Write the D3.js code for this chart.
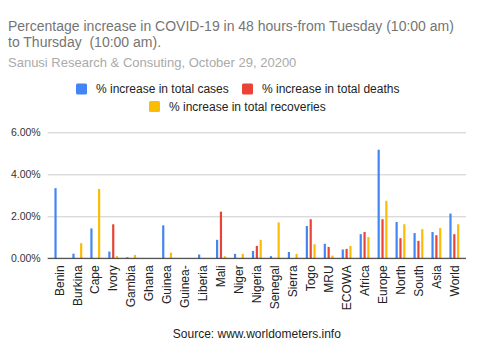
<!DOCTYPE html>
<html>
<head>
<meta charset="utf-8">
<script src="https://cdn.jsdelivr.net/npm/d3@7"></script>
<style>
  html, body { margin: 0; padding: 0; background: #fff; }
  svg { display: block; font-family: Arial, "Liberation Sans", sans-serif; }
</style>
</head>
<body>
<svg id="chart" width="480" height="360"></svg>
<script>
const categories = ["Benin","Burkina","Cape","Ivory","Gambia","Ghana","Guinea","Guinea-","Liberia","Mali","Niger","Nigeria","Senegal","Sierra","Togo","MRU","ECOWA","Africa","Europe","North","South","Asia","World"];
const casesPct      = [3.34,0.22,1.42,0.32,0.05,0,1.57,0,0.18,0.88,0.21,0.35,0.10,0.30,1.54,0.69,0.42,1.15,5.17,1.73,1.20,1.25,2.13];
const deathsPct     = [0,0,0,1.62,0,0,0,0,0,2.22,0,0.59,0,0,1.86,0.54,0.45,1.25,1.86,0.96,0.83,1.10,1.15];
const recoveriesPct = [0,0.72,3.30,0.10,0.16,0,0.27,0,0,0.10,0.21,0.88,1.71,0.21,0.67,0.13,0.59,1.01,2.74,1.62,1.39,1.44,1.62];
const seriesNames = ["% increase in total cases","% increase in total deaths","% increase in total recoveries"];
const seriesColors = ["#4285F4","#EA4335","#FBBC04"];
const yTicks = [0, 2, 4, 6];
const titleLines = ["Percentage increase in COVID-19 in 48 hours-from Tuesday (10:00 am)", "to Thursday  (10:00 am)."];
const subtitle = "Sanusi Research & Consuting, October 29, 20200";
const sourceText = "Source: www.worldometers.info";

(function () {
const svg = d3.select("#chart");
const pLeft = 47.7, pRight = 466, pTop = 132.3, pBottom = 258.3;

const x = d3.scaleBand().domain(categories).range([pLeft, pRight]).paddingInner(0).paddingOuter(0.15);
const groupW = x.bandwidth() * 0.55;
const x1 = d3.scaleBand().domain(seriesNames).range([0, groupW]).paddingInner(0.43).paddingOuter(0);
const groupOffset = (x.bandwidth() - groupW) / 2;
const y = d3.scaleLinear().domain([0, 6]).range([pBottom, pTop]);

// title
const title = svg.append("g");
titleLines.forEach((t, i) => {
  title.append("text").attr("x", 8).attr("y", 31 + i * 16)
    .attr("font-size", 14).attr("fill", "#757575").style("white-space", "pre").text(t);
});
title.append("text").attr("x", 8).attr("y", 67)
  .attr("font-size", 13).attr("fill", "#aaaaaa").text(subtitle);

// legend
const legendItems = [
  {i: 0, sx: 76, cy: 89},
  {i: 1, sx: 242, cy: 89},
  {i: 2, sx: 149, cy: 106.5}
];
const lg = svg.append("g");
legendItems.forEach(d => {
  lg.append("rect").attr("x", d.sx).attr("y", d.cy - 5.5).attr("width", 11).attr("height", 11)
    .attr("rx", 1.5).attr("fill", seriesColors[d.i]);
  lg.append("text").attr("x", d.sx + 20).attr("y", d.cy + 4)
    .attr("font-size", 12).attr("fill", "#222").text(seriesNames[d.i]);
});

// gridlines + y axis
const yAxis = d3.axisLeft(y).tickValues(yTicks).tickSize(-(pRight - pLeft)).tickPadding(7)
  .tickFormat(d => d.toFixed(2) + "%");
const ya = svg.append("g").attr("transform", `translate(${pLeft},0)`).call(yAxis);
ya.select(".domain").remove();
ya.selectAll(".tick line").attr("stroke", "#cccccc").attr("stroke-width", 1);
ya.selectAll(".tick text").attr("font-size", 10.5).attr("fill", "#333").attr("font-family", "Arial, 'Liberation Sans', sans-serif");

// bars
const data = categories.map((c, k) => ({c, vals: [casesPct[k], deathsPct[k], recoveriesPct[k]]}));
const groups = svg.append("g").selectAll("g").data(data).join("g")
  .attr("transform", d => `translate(${x(d.c) + groupOffset},0)`);
groups.selectAll("rect").data(d => d.vals.map((v, i) => ({v, i}))).join("rect")
  .attr("x", d => x1(seriesNames[d.i]))
  .attr("width", x1.bandwidth())
  .attr("y", d => y(d.v))
  .attr("height", d => pBottom - y(d.v))
  .attr("fill", d => seriesColors[d.i]);

// baseline
svg.append("line").attr("x1", pLeft).attr("x2", pRight).attr("y1", y(0)).attr("y2", y(0))
  .attr("stroke", "#333").attr("stroke-width", 1);

// x axis labels
const xAxis = d3.axisBottom(x).tickSize(0).tickPadding(0);
const xa = svg.append("g").attr("transform", `translate(0,${pBottom})`).call(xAxis);
xa.select(".domain").remove();
xa.selectAll(".tick text")
  .attr("font-size", 12).attr("fill", "#222").attr("font-family", "Arial, 'Liberation Sans', sans-serif")
  .attr("text-anchor", "end")
  .attr("transform", "translate(0,7) rotate(-90)")
  .attr("x", 0).attr("y", 0).attr("dy", "0.35em");

// source
svg.append("text").attr("x", (pLeft + pRight) / 2).attr("y", 338).attr("text-anchor", "middle")
  .attr("font-size", 12).attr("fill", "#222").text(sourceText);
})();
</script>
</body>
</html>
